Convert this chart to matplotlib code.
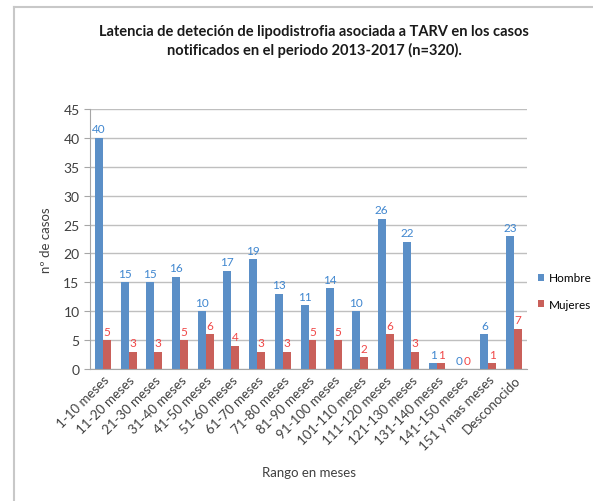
import matplotlib.pyplot as plt
import numpy as np
from matplotlib.lines import Line2D

plt.rcParams['font.family'] = ['Lato', 'DejaVu Sans']

# Rangos de latencia y casos por sexo
rangos = ['1-10 meses', '11-20 meses', '21-30 meses', '31-40 meses', '41-50 meses',
          '51-60 meses', '61-70 meses', '71-80 meses', '81-90 meses', '91-100 meses',
          '101-110 meses', '111-120 meses', '121-130 meses', '131-140 meses',
          '141-150 meses', '151 y mas meses', 'Desconocido']
hombre = [40, 15, 15, 16, 10, 17, 19, 13, 11, 14, 10, 26, 22, 1, 0, 6, 23]
mujeres = [5, 3, 3, 5, 6, 4, 3, 3, 5, 5, 2, 6, 3, 1, 0, 1, 7]

fig = plt.figure(figsize=(5.93, 5.02), dpi=100)
ax = fig.add_axes([90 / 593, 1 - 370 / 502, 437 / 593, 260 / 502])

x = np.arange(len(rangos))
w = 0.31
azul = '#5B8FC7'
rojo = '#C9605A'
b1 = ax.bar(x - w / 2, hombre, w, color=azul, label='Hombre')
b2 = ax.bar(x + w / 2, mujeres, w, color=rojo, label='Mujeres')

# Etiquetas de valor sobre cada barra
for xi, v in zip(x, hombre):
    ax.text(xi - w / 2, v + 0.6, str(v), ha='center', va='bottom',
            fontsize=8.5, color='#3F86CF')
for xi, v in zip(x, mujeres):
    ax.text(xi + w / 2, v + 0.6, str(v), ha='center', va='bottom',
            fontsize=8.5, color='#F04848')

ax.set_xlim(-0.5, len(rangos) - 0.5)
ax.set_ylim(0, 45)
ax.set_yticks(range(0, 46, 5))
ax.yaxis.grid(True, color='#BFBFBF', linewidth=1)
ax.set_axisbelow(True)
for s in ['top', 'right']:
    ax.spines[s].set_visible(False)
ax.spines['left'].set_color('#A6A6A6')
ax.spines['bottom'].set_color('#A6A6A6')
ax.tick_params(axis='y', colors='#A6A6A6', labelcolor='#404040', labelsize=10, length=4)
ax.tick_params(axis='x', length=0, labelcolor='#404040', labelsize=9.5, pad=3)
ax.set_xticks(x)
ax.set_xticklabels(rangos, rotation=45, ha='right', rotation_mode='anchor')

ax.set_ylabel('nº de casos', fontsize=9.5, color='#404040', labelpad=8)
ax.set_xlabel('Rango en meses', fontsize=9.5, color='#404040', labelpad=10)

fig.text(0.53, 0.917, 'Latencia de deteción de lipodistrofia asociada a TARV en los casos\n'
         'notificados en el periodo 2013-2017 (n=320).',
         ha='center', va='center', fontsize=10.5, fontweight='bold', color='#1A1A1A',
         linespacing=1.35)

fig.legend(handles=[b1, b2], loc='center left', bbox_to_anchor=(538 / 593, 1 - 292 / 502),
           frameon=False, fontsize=8.5, handlelength=0.55, handleheight=0.55,
           handletextpad=0.35, labelspacing=1.3, borderpad=0, borderaxespad=0)

# Marco del gráfico
fig.add_artist(Line2D([14 / 593, 14 / 593], [0, 1 - 8 / 502], color='#C8C8C8', lw=1.5))
fig.add_artist(Line2D([14 / 593, 1], [1 - 8 / 502, 1 - 8 / 502], color='#C8C8C8', lw=1.5))

fig.savefig('out.png', dpi=100)
